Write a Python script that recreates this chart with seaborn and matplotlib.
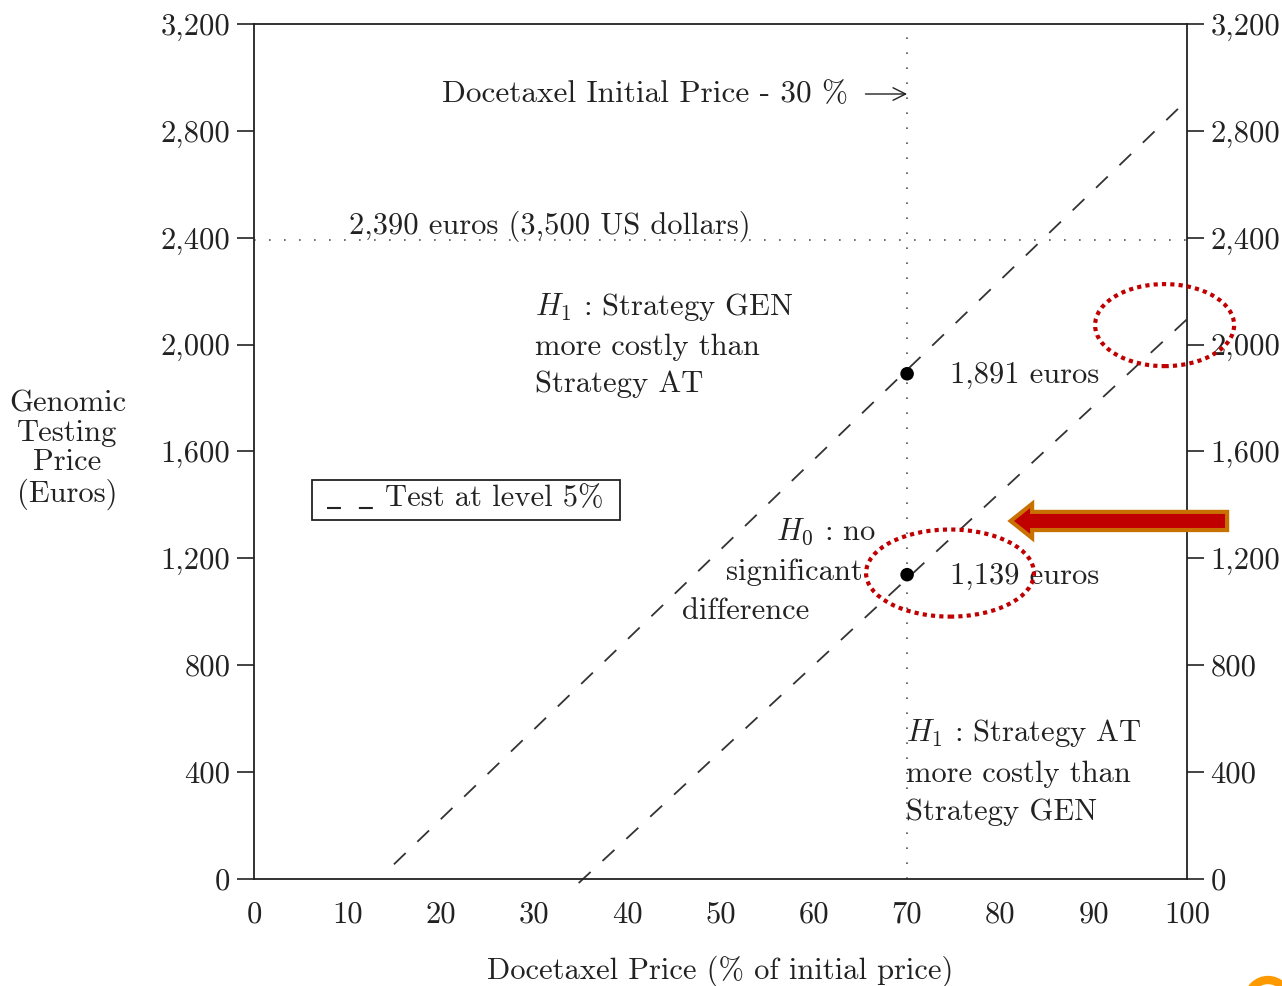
import seaborn as sns
import matplotlib.pyplot as plt
import matplotlib.patches as mpatches
import numpy as np

# data
test_upper_x = [15, 100]
test_upper_y = [55, 2915]
test_lower_x = [34.8, 100]
test_lower_y = [-15, 2095]
thresh_x = [70, 70]
thresh_y = [1891, 1139]
thresh_labels = ["1,891 euros", "1,139 euros"]
price_cut = 70          # docetaxel initial price - 30 %
gen_price = 2390        # 2,390 euros (3,500 US dollars)
x_ticks = list(range(0, 101, 10))
y_ticks = list(range(0, 3201, 400))
y_ticklabels = ["0", "400", "800", "1,200", "1,600", "2,000", "2,400", "2,800", "3,200"]

sns.set_style("white")
plt.rcParams["font.family"] = ["cmr10"]
plt.rcParams["mathtext.fontset"] = "cm"
plt.rcParams["axes.unicode_minus"] = False
plt.rcParams["axes.formatter.use_mathtext"] = True

fs = 22
fig = plt.figure(figsize=(12.82, 9.86), dpi=100)
ax = fig.add_axes([254/1282, 1-879/986, 933/1282, 855/986])

# reference lines
ax.plot([price_cut, price_cut], [0, 3200], color="#555555", lw=1.2, ls=(0, (1, 8)))
ax.plot([0, 100], [gen_price, gen_price], color="#555555", lw=1.2, ls=(0, (1, 8)))

# test lines
sns.lineplot(x=test_upper_x, y=test_upper_y, ax=ax, color="#333333", lw=1.3,
             linestyle=(0, (9, 9)), clip_on=False)
sns.lineplot(x=test_lower_x, y=test_lower_y, ax=ax, color="#333333", lw=1.3,
             linestyle=(0, (9, 9)), clip_on=False)
sns.scatterplot(x=thresh_x, y=thresh_y, ax=ax, color="black", s=95, edgecolor="none", zorder=5)

ax.set_xlim(0, 100)
ax.set_ylim(0, 3200)
ax.set_xticks(x_ticks)
ax.set_xticklabels([str(v) for v in x_ticks], fontsize=fs)
ax.set_yticks(y_ticks)
ax.set_yticklabels(y_ticklabels, fontsize=fs)
ax.tick_params(axis="y", which="both", left=True, right=True, labelleft=True, labelright=True,
               direction="out", length=12, width=1.2, pad=5, colors="#222222")
ax.tick_params(axis="x", direction="out", length=12, width=1.2, pad=4, colors="#222222")
for sp in ax.spines.values():
    sp.set_visible(True)
    sp.set_color("#222222")
    sp.set_linewidth(1.3)

ax.set_xlabel("Docetaxel Price (% of initial price)", fontsize=fs, color="#222222", labelpad=19)
ax.set_ylabel("Genomic\nTesting\nPrice\n(Euros)", fontsize=fs, rotation=0, ha="center", va="center",
              color="#222222", linespacing=1.1)
ax.yaxis.set_label_coords(-0.2, 0.502)

tc = "#222222"
ax.annotate("Docetaxel Initial Price - 30 %", xy=(70, 2938), xytext=(63.7, 2938),
            ha="right", va="center", fontsize=22.5, color=tc,
            arrowprops=dict(arrowstyle="->", color=tc, lw=1.0, shrinkA=10, shrinkB=0))
ax.text(10.2, 2444, "2,390 euros (3,500 US dollars)", ha="left", va="center", fontsize=fs, color=tc)
ax.text(30.1, 2000, "$H_1$ : Strategy GEN\nmore costly than\nStrategy AT", ha="left", va="center",
        fontsize=fs, color=tc, linespacing=1.45)
ax.text(69.9, 402, "$H_1$ : Strategy AT\nmore costly than\nStrategy GEN", ha="left", va="center",
        fontsize=fs, color=tc, linespacing=1.5)
ax.text(56.0, 1299, "$H_0$ : no", ha="left", va="center", fontsize=fs, color=tc)
ax.text(50.6, 1149, "significant", ha="left", va="center", fontsize=fs, color=tc)
ax.text(45.9, 1003, "difference", ha="left", va="center", fontsize=fs, color=tc)
for xv, yv, lab in zip(thresh_x, thresh_y, thresh_labels):
    ax.text(xv + 4.6, yv - 5, lab, ha="left", va="center", fontsize=fs, color=tc)

# legend box
ax.text(14.0, 1425, "Test at level 5%", ha="left", va="center", fontsize=fs, color=tc)
ax.plot([7.8, 12.9], [1390, 1390], color=tc, lw=1.5, ls=(0, (6.7, 8.6)))
ax.add_patch(mpatches.Rectangle((6.2, 1345), 33.0, 150, fill=False, ec=tc, lw=1.3))

# red highlight marks
red = "#C00000"
ax.add_patch(mpatches.Ellipse((97.6, 2073), 14.9, 307, fill=False, ec=red, lw=3,
                              ls=(0, (1, 1)), clip_on=False, zorder=6))
ax.add_patch(mpatches.Ellipse((74.6, 1145), 18.0, 326, fill=False, ec=red, lw=3,
                              ls=(0, (1, 1)), clip_on=False, zorder=6))
ax.add_patch(mpatches.FancyArrow(104.3, 1340, -23.2, 0, width=68, head_width=128,
                                 head_length=2.3, length_includes_head=True,
                                 fc=red, ec="#C87000", lw=3, clip_on=False, zorder=7))

# orange mark cut by the bottom-right corner
fig.add_artist(mpatches.Arc((1268/1282, 1-1000/986), 40/1282, 40/986, theta1=0, theta2=180,
                            color="#FF9900", lw=6, transform=fig.transFigure))

fig.savefig("out.png", dpi=100)
